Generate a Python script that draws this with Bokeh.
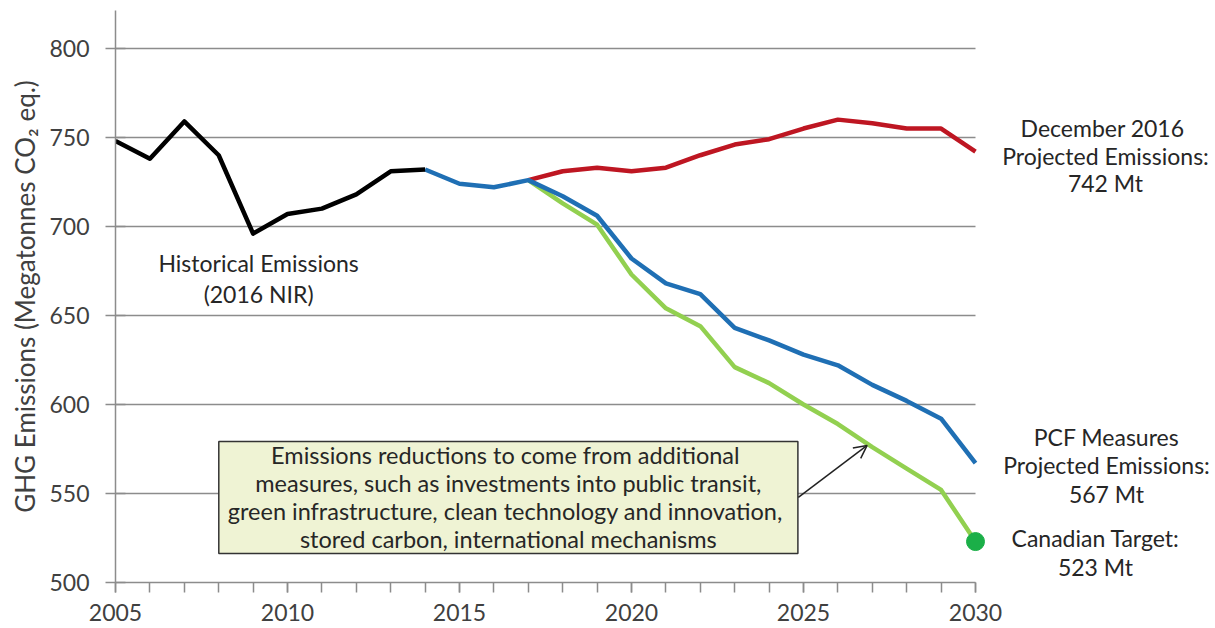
from bokeh.plotting import figure
from bokeh.models import Label, Arrow, OpenHead, FixedTicker, Range1d
from bokeh.embed import file_html
from bokeh.resources import INLINE

# ---- data ----
hist_years = list(range(2005, 2015))
hist_values = [748, 738, 759, 740, 696, 707, 710, 718, 731, 732]

pcf_years = list(range(2014, 2031))
pcf_values = [732, 724, 722, 726, 717, 706, 682, 668, 662, 643, 636, 628, 622, 611, 602, 592, 567]

dec_years = list(range(2017, 2031))
dec_values = [726, 731, 733, 731, 733, 740, 746, 749, 755, 760, 758, 755, 755, 742]

target_years = list(range(2017, 2031))
target_values = [726, 713, 701, 673, 654, 644, 621, 612, 600, 589, 576, 564, 552, 523]

y_ticks = [500, 550, 600, 650, 700, 750, 800]
x_ticks = [2005, 2010, 2015, 2020, 2025, 2030]
x_minor = list(range(2005, 2031))

FONT = "Lato"
TXT = "#262626"
GRID = "#8c8c8c"

x_first, x_last = hist_years[0], pcf_years[-1]
# plot frame extends right of 2030 so the end-of-line notes can sit beside the lines
x_end = x_first + (x_last - x_first) * (1210 - 115) / (975 - 115)

p = figure(width=1215, height=628, output_backend="svg", toolbar_location=None,
           x_range=Range1d(x_first, x_end), y_range=Range1d(500, 821.3),
           min_border_left=115, min_border_right=5, min_border_top=10,
           min_border_bottom=46)
p.outline_line_color = None
p.background_fill_color = "white"

# grid (horizontal lines only, stopping at 2030)
p.xgrid.grid_line_color = None
p.ygrid.grid_line_color = None
grid_y = y_ticks[1:]
p.segment(x0=[x_first] * len(grid_y), y0=grid_y, x1=[x_last] * len(grid_y), y1=grid_y,
          line_color=GRID, line_width=1.5)

# y axis
p.yaxis.ticker = FixedTicker(ticks=y_ticks)
p.yaxis.axis_line_color = GRID
p.yaxis.axis_line_width = 1.5
p.yaxis.major_tick_line_color = GRID
p.yaxis.major_tick_line_width = 1.5
p.yaxis.major_tick_in = 10
p.yaxis.major_tick_out = 10
p.yaxis.minor_tick_line_color = None
p.yaxis.major_label_text_font = FONT
p.yaxis.major_label_text_font_size = "23px"
p.yaxis.major_label_text_color = "#404040"
p.yaxis.major_label_standoff = 16
p.yaxis.axis_label = "GHG Emissions (Megatonnes CO\u2082 eq.)"
p.yaxis.axis_label_text_font = FONT
p.yaxis.axis_label_text_font_style = "normal"
p.yaxis.axis_label_text_font_size = "26px"
p.yaxis.axis_label_text_color = "#404040"
p.yaxis.axis_label_standoff = 5

# x axis
p.xaxis.ticker = FixedTicker(ticks=x_ticks, minor_ticks=x_minor)
p.xaxis.bounds = (x_first, x_last)
p.xaxis.axis_line_color = GRID
p.xaxis.axis_line_width = 1.5
p.xaxis.major_tick_line_color = GRID
p.xaxis.major_tick_line_width = 1.5
p.xaxis.major_tick_in = 0
p.xaxis.major_tick_out = 10
p.xaxis.minor_tick_line_color = GRID
p.xaxis.minor_tick_line_width = 1.5
p.xaxis.minor_tick_in = 0
p.xaxis.minor_tick_out = 10
p.xaxis.major_label_text_font = FONT
p.xaxis.major_label_text_font_size = "23px"
p.xaxis.major_label_text_color = "#404040"
p.xaxis.major_label_standoff = 11

# lines
p.line(dec_years, dec_values, color="#BE1622", line_width=4.5, line_join="round")
p.line(target_years, target_values, color="#92D050", line_width=4.5, line_join="round")
p.line(pcf_years, pcf_values, color="#1F6FB4", line_width=4.5, line_join="round")
p.line(hist_years, hist_values, color="black", line_width=4.5, line_join="round")
p.scatter([target_years[-1]], [target_values[-1]], size=18, color="#1BAF48")

# annotations
p.add_layout(Label(x=2009.16, y=670.8, text="Historical Emissions\n(2016 NIR)",
                   text_align="center", text_baseline="middle", text_font=FONT,
                   text_font_size="23px", text_color=TXT, text_line_height=1.09))

p.add_layout(Label(x=dec_years[-1], y=dec_values[-1], x_offset=130, y_offset=-4,
                   text="December  2016\nProjected Emissions:\n%d Mt" % dec_values[-1],
                   text_align="center", text_baseline="middle", text_font=FONT,
                   text_font_size="23px", text_color=TXT, text_line_height=0.98))

p.add_layout(Label(x=pcf_years[-1], y=pcf_values[-1], x_offset=131, y_offset=-2,
                   text="PCF Measures\nProjected Emissions:\n%d Mt" % pcf_values[-1],
                   text_align="center", text_baseline="middle", text_font=FONT,
                   text_font_size="23px", text_color=TXT, text_line_height=1.02))

p.add_layout(Label(x=target_years[-1], y=target_values[-1], x_offset=120, y_offset=-11,
                   text="Canadian Target:\n%d Mt" % target_values[-1],
                   text_align="center", text_baseline="middle", text_font=FONT,
                   text_font_size="23px", text_color=TXT, text_line_height=1.05))

box_x, box_y = 2016.42, 547.8
box_right = 2024.85
p.add_layout(Label(x=box_x, y=box_y,
                   text=("Emissions reductions to come from  additional\n"
                         "measures, such as investments into public transit,\n"
                         "green  infrastructure, clean technology and innovation,\n"
                         "stored carbon, international mechanisms"),
                   text_align="center", text_baseline="middle", text_font=FONT,
                   text_font_size="23.5px", text_color=TXT, text_line_height=1.0,
                   background_fill_color="#EFF3D4", border_line_color="#333333",
                   border_line_width=1.5,
                   padding=dict(left=9, right=9, top=0, bottom=0)))

p.add_layout(Arrow(end=OpenHead(size=13, line_width=1.5, line_color="#222222"),
                   x_start=box_right, y_start=box_y, x_end=2026.85, y_end=577,
                   line_width=1.5, line_color="#222222"))

open("out.html", "w").write(file_html(p, INLINE))
